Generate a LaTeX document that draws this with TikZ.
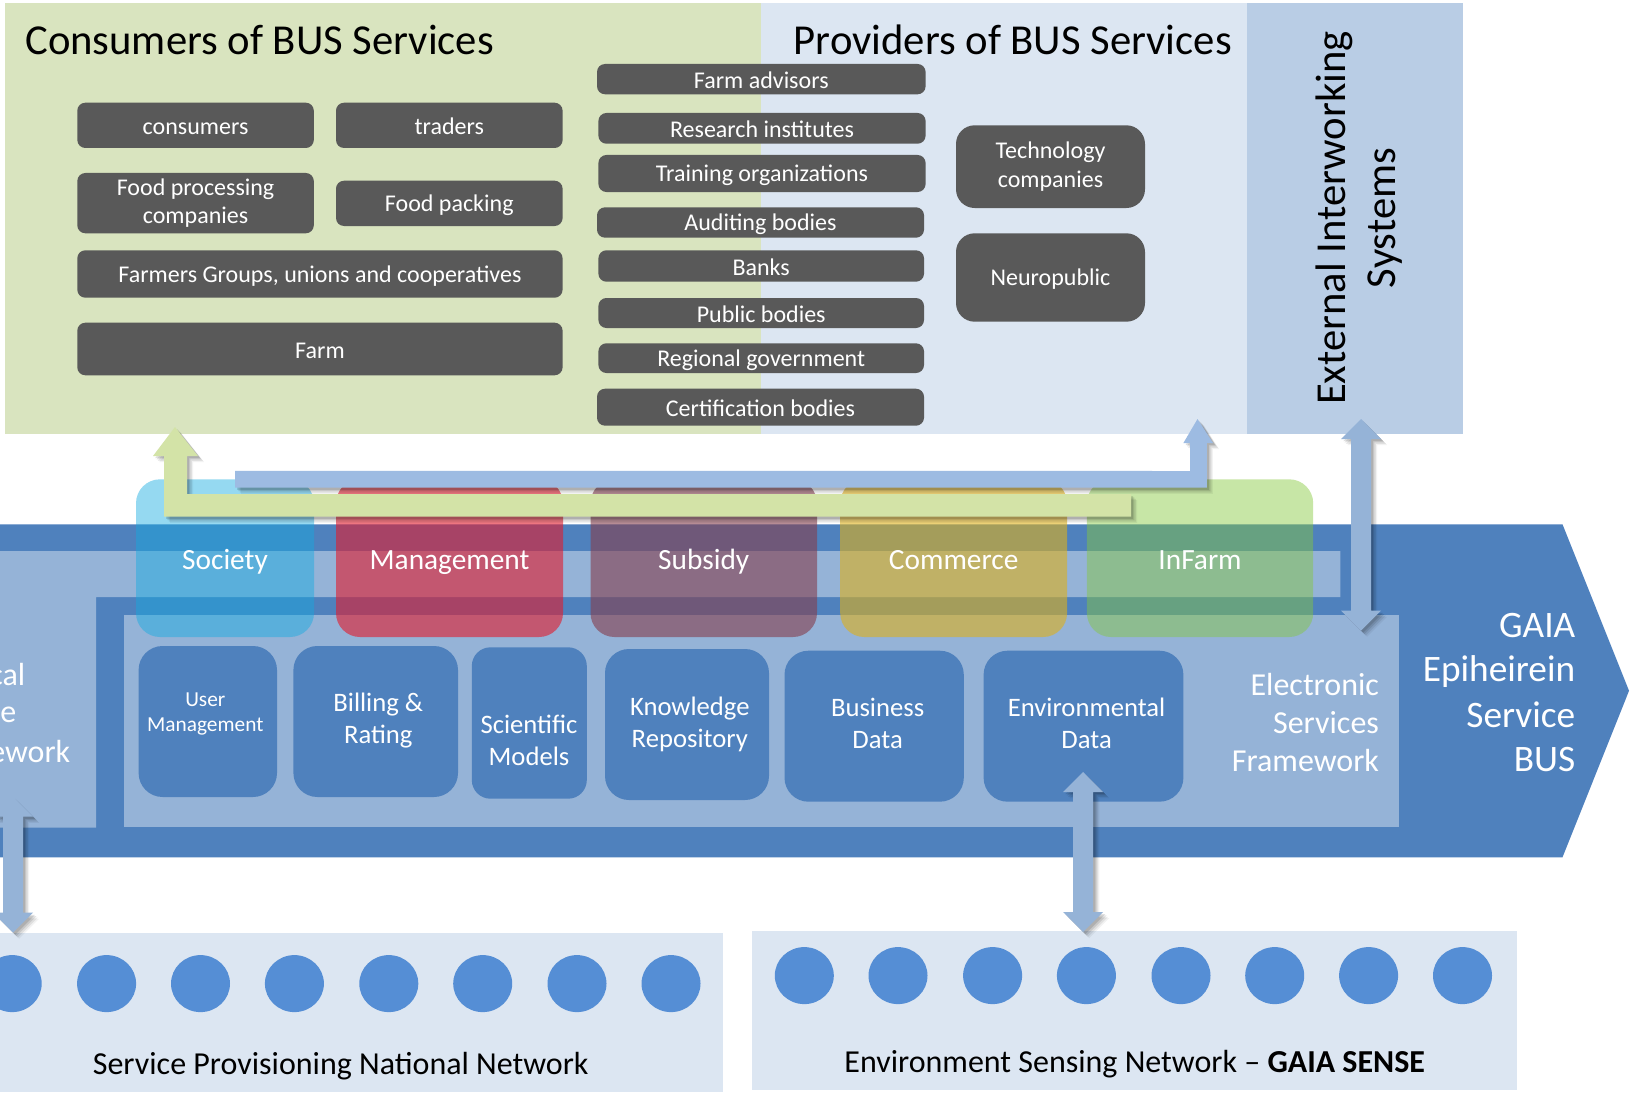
\documentclass[tikz,border=0pt]{standalone}
\usepackage{fontspec}
\setmainfont{Carlito}
\usetikzlibrary{shapes.geometric,shadows,calc}
\definecolor{pgreen}{HTML}{D9E4BF}
\definecolor{pblue}{HTML}{DCE6F2}
\definecolor{pext}{HTML}{B9CDE5}
\definecolor{dbox}{HTML}{595959}
\definecolor{band}{HTML}{4F81BD}
\definecolor{lframe}{HTML}{95B3D7}
\definecolor{dotc}{HTML}{558ED5}
\definecolor{agreen}{HTML}{D3E3A7}
\definecolor{ablue}{HTML}{9DBBE2}
\definecolor{tabsoc}{HTML}{14ABE0}
\definecolor{tabman}{HTML}{E21A2C}
\definecolor{tabsub}{HTML}{853E4D}
\definecolor{tabcom}{HTML}{DEB11B}
\definecolor{tabinf}{HTML}{85C83A}
\newcommand{\fsz}[2]{\fontsize{#1}{#2}\selectfont}
\newcommand{\bx}[7]{\node[#6,minimum width={(#4-(#2))*0.75pt},minimum height={(#5-(#3))*0.75pt}] (#1) at ({(#2+#4)/2},{(#3+#5)/2}) {#7};}
\newcommand{\svc}[8]{\bx{#1}{#2}{#3}{#4}{#5}{svcbox,#6}{}\node[svctext] (#1t) at (#7) {#8};}
\newcommand{\dstrutA}{\rule{0pt}{15.5pt}}
\newcommand{\dstrutB}{\rule[-2pt]{0pt}{2pt}}
\newcommand{\lowered}[1]{\raisebox{-2.2pt}{#1}}
\tikzset{
  panel/.style={rectangle,fill=#1,draw=none,inner sep=0pt},
  darkbox/.style={rectangle,rounded corners=6pt,fill=dbox,draw=none,text=white,inner sep=0pt,align=center,font=\fsz{18}{21.3},
    execute at begin node=\dstrutA,execute at end node=\dstrutB},
  techbox/.style={darkbox,rounded corners=14pt},
  tab/.style={rectangle,rounded corners=18pt,fill=#1,draw=none,inner sep=0pt,text=white,font=\fsz{22}{26},text height=18.5pt,text depth=1.8pt},
  svcbox/.style={rectangle,rounded corners=18pt,fill=band,draw=none,inner sep=0pt},
  svctext/.style={text=white,align=center,font=\fsz{20}{24},inner sep=0pt,execute at begin node=\strut,execute at end node=\strut},
  frametext/.style={text=white,inner sep=0pt,anchor=east,font=\fsz{24}{28}},
  bustext/.style={text=white,inner sep=0pt,anchor=east,font=\fsz{28}{32}},
  dot/.style={ellipse,fill=dotc,draw=none,minimum width=44.25pt,minimum height=42.75pt,inner sep=0pt},
  title/.style={text=black,inner sep=0pt,font=\fsz{32}{38}},
  nettext/.style={text=black,inner sep=0pt,font=\fsz{24}{28}},
  blockarrow/.style={fill=#1,draw=none,
    general shadow={shadow xshift=4.6pt,shadow yshift=-4.6pt,fill=black,opacity=.05},
    general shadow={shadow xshift=3.6pt,shadow yshift=-3.6pt,fill=black,opacity=.08},
    general shadow={shadow xshift=2.6pt,shadow yshift=-2.6pt,fill=black,opacity=.1},
    general shadow={shadow xshift=1.6pt,shadow yshift=-1.6pt,fill=black,opacity=.12}},
}
\begin{document}
\begin{tikzpicture}[x=0.75pt,y=-0.75pt]
\useasboundingbox (0,0) rectangle (1634,1095);
\fill[white] (0,0) rectangle (1634,1095);
% top panels
\bx{consumerspanel}{5}{3}{761}{434}{panel=pgreen}{}
\bx{providerspanel}{761}{3}{1247}{434}{panel=pblue}{}
\bx{extpanel}{1247}{3}{1463}{434}{panel=pext}{}
\node[title,anchor=west] (ctitle) at (25,40) {Consumers of BUS Services};
\node[title,anchor=east] (ptitle) at (1232,40) {Providers of BUS Services};
\node[text=black,inner sep=0pt,rotate=90,align=center,font=\fsz{32}{37.5}] (exttext) at (1359.6,218) {External Interworking\\Systems};
% consumer boxes
\bx{consumers}{77.3}{102.7}{313.8}{148}{darkbox}{consumers}
\bx{traders}{336}{102.7}{562.6}{148}{darkbox}{traders}
\bx{foodproc}{77.3}{173}{313.8}{233.3}{darkbox}{\lowered{Food processing}\\\lowered{companies}}
\bx{foodpack}{336}{180.7}{562.6}{226}{darkbox}{Food packing}
\bx{farmers}{77.3}{250.3}{562.6}{297.7}{darkbox}{Farmers Groups, unions and cooperatives}
\bx{farm}{77.3}{322.7}{562.6}{375.3}{darkbox}{Farm}
% provider boxes
\bx{advisors}{597}{64}{925.6}{94.3}{darkbox}{Farm advisors}
\bx{research}{598.4}{113}{925.6}{143.7}{darkbox}{Research institutes}
\bx{training}{598.4}{155}{925.6}{192}{darkbox}{Training organizations}
\bx{auditing}{597}{207.3}{924}{237.7}{darkbox}{Auditing bodies}
\bx{banks}{598.4}{250.3}{924}{281.7}{darkbox}{Banks}
\bx{public}{598.4}{298}{924}{328}{darkbox}{Public bodies}
\bx{regional}{598.4}{343.3}{924}{373}{darkbox}{Regional government}
\bx{certif}{597}{388.7}{924}{425.7}{darkbox}{Certification bodies}
\bx{techco}{956}{125.3}{1145}{208}{techbox}{\lowered{Technology}\\\lowered{companies}}
\bx{neuro}{956}{233.3}{1145}{321.7}{techbox}{Neuropublic}
% bus band
\fill[band] (0,524.3) -- (1562.5,524.3) -- (1629,690.8) -- (1562.5,857.3) -- (0,857.3) -- cycle;
\fill[lframe] (0,551) -- (1340.3,551) -- (1340.3,597) -- (96,597) -- (96,827.7) -- (0,827.7) -- cycle;
\fill[lframe] (124,615) rectangle (1398.9,826.7);
% service boxes
\bx{usermgmt}{138.6}{646}{277}{797}{svcbox}{}
\node[svctext,font=\fsz{16}{18.75}] (usermgmtt) at (205.3,716) {User\\Management};
\svc{billing}{293.4}{646}{458}{797}{}{378.3,723}{Billing \&\\Rating}
\svc{scimodels}{471.8}{647.3}{586.8}{798.7}{rounded corners=14pt}{529,745}{Scientific\\Models}
\svc{knowledge}{605}{649}{769}{800}{}{689.8,726.7}{Knowledge\\Repository}
\svc{business}{784.5}{650.7}{963.8}{801.7}{}{877.6,728}{Business\\Data}
\svc{envdata}{983.6}{650.7}{1183.4}{801.7}{}{1086.6,728}{Environmental\\Data}
% tabs
\bx{society}{136}{479.3}{314}{637}{tab=tabsoc,fill opacity=.45,text opacity=1}{Society}
\bx{management}{336}{479.3}{563}{637}{tab=tabman,fill opacity=.6,text opacity=1}{Management}
\bx{subsidy}{590.5}{479.3}{817}{637}{tab=tabsub,fill opacity=.6,text opacity=1}{Subsidy}
\bx{commerce}{840.2}{479.3}{1067.1}{637}{tab=tabcom,fill opacity=.6,text opacity=1}{Commerce}
\bx{infarm}{1086.9}{479.3}{1313.2}{637}{tab=tabinf,fill opacity=.45,text opacity=1}{InFarm}
% framework texts
\node[frametext] (ef1) at (1379.2,685) {Electronic};
\node[frametext] (ef2) at (1379.2,722.5) {Services};
\node[frametext] (ef3) at (1379.2,761) {Framework};
\node[bustext] (gb1) at (1575.5,625.7) {GAIA};
\node[bustext] (gb2) at (1575.5,672) {Epiheirein};
\node[bustext] (gb3) at (1575.5,714.5) {Service};
\node[bustext] (gb4) at (1575.5,760) {BUS};
\node[frametext] (lf1) at (25.5,675) {cal};
\node[frametext] (lf2) at (16.5,715) {e};
\node[frametext] (lf3) at (70.5,751) {ework};
% bottom panels
\bx{spnet}{0}{933}{723}{1092}{panel=pblue}{}
\bx{envnet}{752}{931}{1517}{1090}{panel=pblue}{}
\foreach \i/\cx in {1/12.2,2/106.6,3/200.5,4/294.4,5/388.8,6/482.7,7/577,8/671}
  \node[dot] (sp\i) at (\cx,983.6) {};
\foreach \i/\cx in {1/804.3,2/898,3/992.6,4/1086.4,5/1181,6/1274.7,7/1368.6,8/1462.5}
  \node[dot] (en\i) at (\cx,975.6) {};
\node[nettext] (sptext) at (340.7,1066.5) {Service Provisioning National Network};
\node[nettext] (entext) at (1134.7,1064) {Environment Sensing Network – \textbf{GAIA SENSE}};
% block arrows
\coordinate (gtip) at (175,427);
\coordinate (gend) at (1131,505.3);
\coordinate (btip) at (1197.5,419);
\coordinate (bend) at (235,479.3);
\coordinate (exttop) at (1361,419);
\coordinate (extbot) at (1361,630.7);
\coordinate (envtop) at (1083.2,772);
\coordinate (envbot) at (1083.2,932);
\coordinate (lefttop) at (13,796.7);
\coordinate (leftbot) at (13,932.7);
\fill[blockarrow=ablue] (btip) -- ++(15.5,24) -- ++(-6.2,0) -- (1206.8,487.7) -- ($(bend)+(0,8.4)$) -- ($(bend)+(0,-8.4)$) -- (1190.2,471) -- (1190.2,443) -- (1183.4,443) -- cycle;
\fill[blockarrow=agreen] (gtip) -- ++(23,29) -- ++(-11,0) -- (187,494) -- ($(gend)+(0,-11.3)$) -- ($(gend)+(0,11.4)$) -- (164,516.7) -- (164,456) -- (153,456) -- cycle;
\foreach \t/\b in {exttop/extbot,envtop/envbot,lefttop/leftbot}{
  \fill[blockarrow=lframe] (\t) -- ++(20,20) -- ++(-10,0) -- ($(\b)+(10,-20)$) -- ($(\b)+(20,-20)$) -- (\b) -- ($(\b)+(-20,-20)$) -- ($(\b)+(-10,-20)$) -- ($(\t)+(-10,20)$) -- ($(\t)+(-20,20)$) -- cycle;
}
\end{tikzpicture}
\end{document}
